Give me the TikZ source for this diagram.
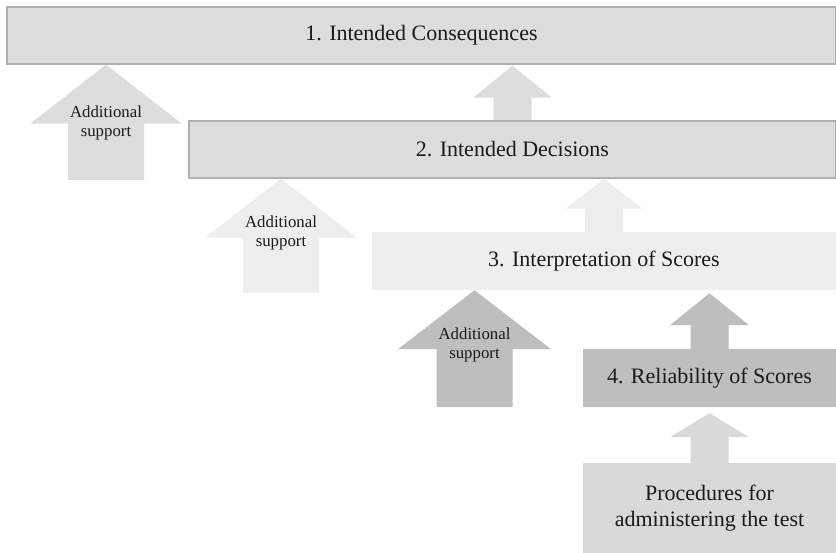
\documentclass[tikz,border=0pt]{standalone}
\usepackage{fontspec}
\setmainfont{Liberation Serif}
\usetikzlibrary{calc}

\definecolor{greyA}{HTML}{DDDDDD}
\definecolor{greyB}{HTML}{EEEEEE}
\definecolor{greyC}{HTML}{BEBEBE}
\definecolor{greyD}{HTML}{D9D9D9}
\definecolor{edgegrey}{HTML}{B0B0B0}
\definecolor{ink}{HTML}{1A1A1A}

\pgfdeclarelayer{paper}
\pgfdeclarelayer{back}
\pgfsetlayers{paper,back,main}

\tikzset{
  level/.style={anchor=center, inner sep=0pt, align=center, text=ink,
    font=\fontsize{22}{25.5}\selectfont},
  framed/.style={draw=edgegrey, line width=1.5pt},
  supportlabel/.style={anchor=center, inner sep=0pt, align=center, text=ink,
    font=\fontsize{16.8}{19.5}\selectfont},
}

% Upward block arrow: #1 fill, #2 base point, #3 point whose height is the tip,
% #4 gap below the tip, #5 half shaft width, #6 half head width, #7 head length
\newcommand\blockup[7]{%
  \fill[#1] let \p1=(#2), \p2=(#3) in
    (\x1-#5,\y1) -- (\x1-#5,\y2-#4-#7) -- (\x1-#6,\y2-#4-#7) -- (\x1,\y2-#4)
    -- (\x1+#6,\y2-#4-#7) -- (\x1+#5,\y2-#4-#7) -- (\x1+#5,\y1) -- cycle;}

\begin{document}
\begin{tikzpicture}[x=1pt,y=1pt]
\useasboundingbox (0,0) rectangle (836,553);
\clip (0,0) rectangle (836,553);
\begin{pgfonlayer}{paper}
  \fill[white] (0,0) rectangle (836,553);
\end{pgfonlayer}

% levels of the argument
\node[level, framed, fill=greyA, minimum width=829pt, minimum height=57pt]
  (b1) at (421.5,517.5) {1. Intended Consequences};
\node[level, framed, fill=greyA, minimum width=647pt, minimum height=57pt]
  (b2) at (512.5,403.5) {2. Intended Decisions};
\node[level, fill=greyB, minimum width=464pt, minimum height=58pt]
  (b3) at (604,292) {3. Interpretation of Scores};
\node[level, fill=greyC, minimum width=253pt, minimum height=58pt]
  (b4) at (709.5,175) {4. Reliability of Scores};
\node[level, fill=greyD, minimum width=253pt, minimum height=90pt]
  (b5) at (709.5,45) {Procedures for\\administering the test};

% bases of the "additional support" arrows
\coordinate (a1) at (106,373);
\coordinate (a2) at (281,260);
\coordinate (a3) at (474.5,146);

\begin{pgfonlayer}{back}
  % links between consecutive levels
  \blockup{greyA}{b2.north}{b1.south}{1pt}{19pt}{39.5pt}{32pt}
  \blockup{greyB}{b3.north}{b2.south}{0pt}{19pt}{38.5pt}{30pt}
  \blockup{greyC}{b4.north}{b3.south}{3pt}{19pt}{39.5pt}{32pt}
  \blockup{greyD}{b5.north}{b4.south}{6pt}{19pt}{39.5pt}{24pt}
  % additional support
  \blockup{greyA}{a1}{b1.south}{0pt}{38pt}{76pt}{59pt}
  \blockup{greyB}{a2}{b2.south}{0pt}{38pt}{76pt}{59pt}
  \blockup{greyC}{a3}{b3.south}{0pt}{38pt}{76.5pt}{59pt}
\end{pgfonlayer}

\node[supportlabel] (t1) at (106,430) {Additional\\support};
\node[supportlabel] (t2) at (281,320) {Additional\\support};
\node[supportlabel] (t3) at (474.5,208) {Additional\\support};
\end{tikzpicture}
\end{document}
